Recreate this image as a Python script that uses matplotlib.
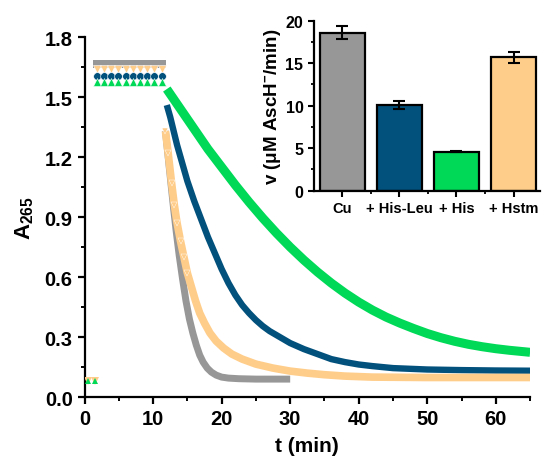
import matplotlib
matplotlib.use("Agg")
import matplotlib.pyplot as plt
from matplotlib.ticker import MultipleLocator

plt.rcParams['font.family'] = ['Liberation Sans', 'DejaVu Sans']
plt.rcParams['font.weight'] = 'bold'
plt.rcParams['mathtext.fontset'] = 'custom'
plt.rcParams['mathtext.rm'] = 'Liberation Sans:bold'
plt.rcParams['mathtext.it'] = 'Liberation Sans:bold'
plt.rcParams['mathtext.bf'] = 'Liberation Sans:bold'
plt.rcParams['mathtext.default'] = 'rm'

# colours of the four conditions
c_gray = '#979797'
c_blue = '#02507C'
c_green = '#00D858'
c_orange = '#FFCD8A'

# first two readings before Cu is added
t_init = [0.55, 1.5]
a_init = [0.08, 0.08]

# plateau readings (ascorbate only)
t_plat = [1.8, 2.85, 3.9, 4.95, 6.0, 7.05, 8.1, 9.15, 10.2, 11.25]
a_plat_cu = [1.667] * 10
a_plat_hstm = [1.64] * 10
a_plat_hisleu = [1.605] * 10
a_plat_his = [1.575] * 10

# decay after addition
t_cu = [11.8, 12.2, 12.6, 13.0, 13.4, 13.8, 14.3, 14.8, 15.3, 15.8, 16.3, 16.8,
        17.3, 17.9, 18.5, 19.2, 20, 21, 22.5, 25, 28, 30]
a_cu = [1.33, 1.2, 1.07, 0.94, 0.82, 0.71, 0.59, 0.48, 0.39, 0.32, 0.26, 0.21,
        0.175, 0.145, 0.125, 0.11, 0.10, 0.095, 0.092, 0.09, 0.09, 0.09]

t_hstm = [11.8, 12.2, 12.7, 13.1, 13.5, 14.0, 14.5, 15.0, 15.6, 16.2, 16.8, 17.5,
          18.3, 19.2, 20.3, 21.5, 23, 25, 27.5, 30, 32.5, 35, 38, 42, 50, 65]
a_hstm = [1.33, 1.22, 1.07, 0.96, 0.87, 0.78, 0.70, 0.62, 0.55, 0.48, 0.42, 0.37,
          0.32, 0.28, 0.245, 0.215, 0.19, 0.165, 0.145, 0.13, 0.12, 0.112, 0.105,
          0.10, 0.098, 0.098]

t_hisleu = [12.0, 12.5, 13, 13.5, 14, 15, 16, 17, 18, 19, 20, 21, 22, 23, 24, 25,
            26, 27, 28, 30, 32, 34, 36, 38, 40, 42, 45, 50, 55, 60, 65]
a_hisleu = [1.46, 1.40, 1.33, 1.26, 1.20, 1.08, 0.98, 0.89, 0.80, 0.72, 0.64, 0.57,
            0.51, 0.46, 0.42, 0.385, 0.355, 0.33, 0.31, 0.27, 0.24, 0.215, 0.19,
            0.175, 0.163, 0.155, 0.145, 0.138, 0.135, 0.133, 0.132]

t_his = [12.0, 13, 14, 16, 18, 20, 22, 24, 26, 28, 30, 32, 34, 36, 38, 40, 42, 44,
         46, 48, 50, 52, 54, 56, 58, 60, 62, 65]
a_his = [1.54, 1.49, 1.44, 1.34, 1.24, 1.15, 1.06, 0.975, 0.895, 0.82, 0.75, 0.685,
         0.625, 0.57, 0.52, 0.475, 0.435, 0.40, 0.37, 0.343, 0.318, 0.297, 0.279,
         0.264, 0.252, 0.242, 0.234, 0.224]

# inset bar data
bar_labels = ['Cu', '+ His-Leu', '+ His', '+ Hstm']
bar_vals = [18.6, 10.1, 4.6, 15.7]
bar_err = [0.8, 0.45, 0.05, 0.65]
bar_cols = [c_gray, c_blue, c_green, c_orange]

fig = plt.figure(figsize=(5.42, 4.64), dpi=100)
ax = fig.add_axes([0.156, 0.142, 0.822, 0.776])

kw = dict(solid_capstyle='butt', solid_joinstyle='round')
ax.plot(t_his, a_his, color=c_green, lw=6.5, zorder=2, **kw)
ax.plot(t_hisleu, a_hisleu, color=c_blue, lw=4.6, zorder=3, **kw)
ax.plot(t_cu, a_cu, color=c_gray, lw=5, zorder=3, **kw)
ax.plot(t_hstm, a_hstm, color=c_orange, lw=5.5, zorder=4, **kw)
ax.plot(t_hstm[:8], a_hstm[:8], 'v', color=c_orange, ms=5, mec='white', mew=0.3,
        zorder=5)

ax.plot(t_plat, a_plat_cu, 's', color=c_gray, ms=6, mew=0, zorder=3)
ax.plot(t_plat, a_plat_hstm, 'v', color=c_orange, ms=6, mec='white', mew=0.4, zorder=4)
ax.plot(t_plat, a_plat_hisleu, 'o', color=c_blue, ms=5.5, mec='white', mew=0.4, zorder=5)
ax.plot(t_plat, a_plat_his, '^', color=c_green, ms=6, mec='white', mew=0.4, zorder=6)

ax.plot(t_init, a_init, 'v', color=c_orange, ms=6, mew=0, zorder=4)
ax.plot(t_init, a_init, '^', color=c_green, ms=4, mew=0, zorder=5)

ax.set_xlim(0, 65)
ax.set_ylim(0, 1.8)
ax.xaxis.set_major_locator(MultipleLocator(10))
ax.xaxis.set_minor_locator(MultipleLocator(5))
ax.yaxis.set_minor_locator(MultipleLocator(0.15))
ax.set_yticks([0, 0.3, 0.6, 0.9, 1.2, 1.5, 1.8])
ax.set_yticklabels(['0.0', '0.3', '0.6', '0.9', '1.2', '1.5', '1.8'])
for s in ['top', 'right']:
    ax.spines[s].set_visible(False)
for s in ['left', 'bottom']:
    ax.spines[s].set_linewidth(1.6)
ax.tick_params(which='major', direction='out', length=5, width=1.6, labelsize=14.5)
ax.tick_params(which='minor', direction='out', length=3, width=1.4)
ax.set_xlabel('t (min)', fontsize=15, fontweight='bold', labelpad=6)
ax.set_ylabel('A$_{265}$', fontsize=16, fontweight='bold', labelpad=6)

# inset
ins = fig.add_axes([0.579, 0.587, 0.418, 0.366])
xs = list(range(len(bar_vals)))
ins.bar(xs, bar_vals, width=0.8, color=bar_cols, edgecolor='black', linewidth=1.6,
        yerr=bar_err, capsize=4, error_kw=dict(ecolor='black', elinewidth=1.5,
                                                 capthick=1.5))
ins.set_xlim(-0.5, 3.47)
ins.set_ylim(0, 20)
ins.set_xticks(xs)
ins.set_xticklabels(bar_labels)
ins.set_xticks([0.5, 1.5, 2.5], minor=True)
ins.yaxis.set_major_locator(MultipleLocator(5))
ins.yaxis.set_minor_locator(MultipleLocator(2.5))
for s in ['top', 'right']:
    ins.spines[s].set_visible(False)
for s in ['left', 'bottom']:
    ins.spines[s].set_linewidth(1.6)
ins.tick_params(which='major', direction='out', length=4, width=1.5, labelsize=11.5)
ins.tick_params(axis='x', which='major', labelsize=10.5)
ins.tick_params(which='minor', direction='out', length=2.5, width=1.3)
ins.set_ylabel('v (μM AscH$^{-}$/min)', fontsize=13.5, fontweight='bold', labelpad=2)
ins.patch.set_alpha(0)

fig.savefig('out.png', dpi=100)
